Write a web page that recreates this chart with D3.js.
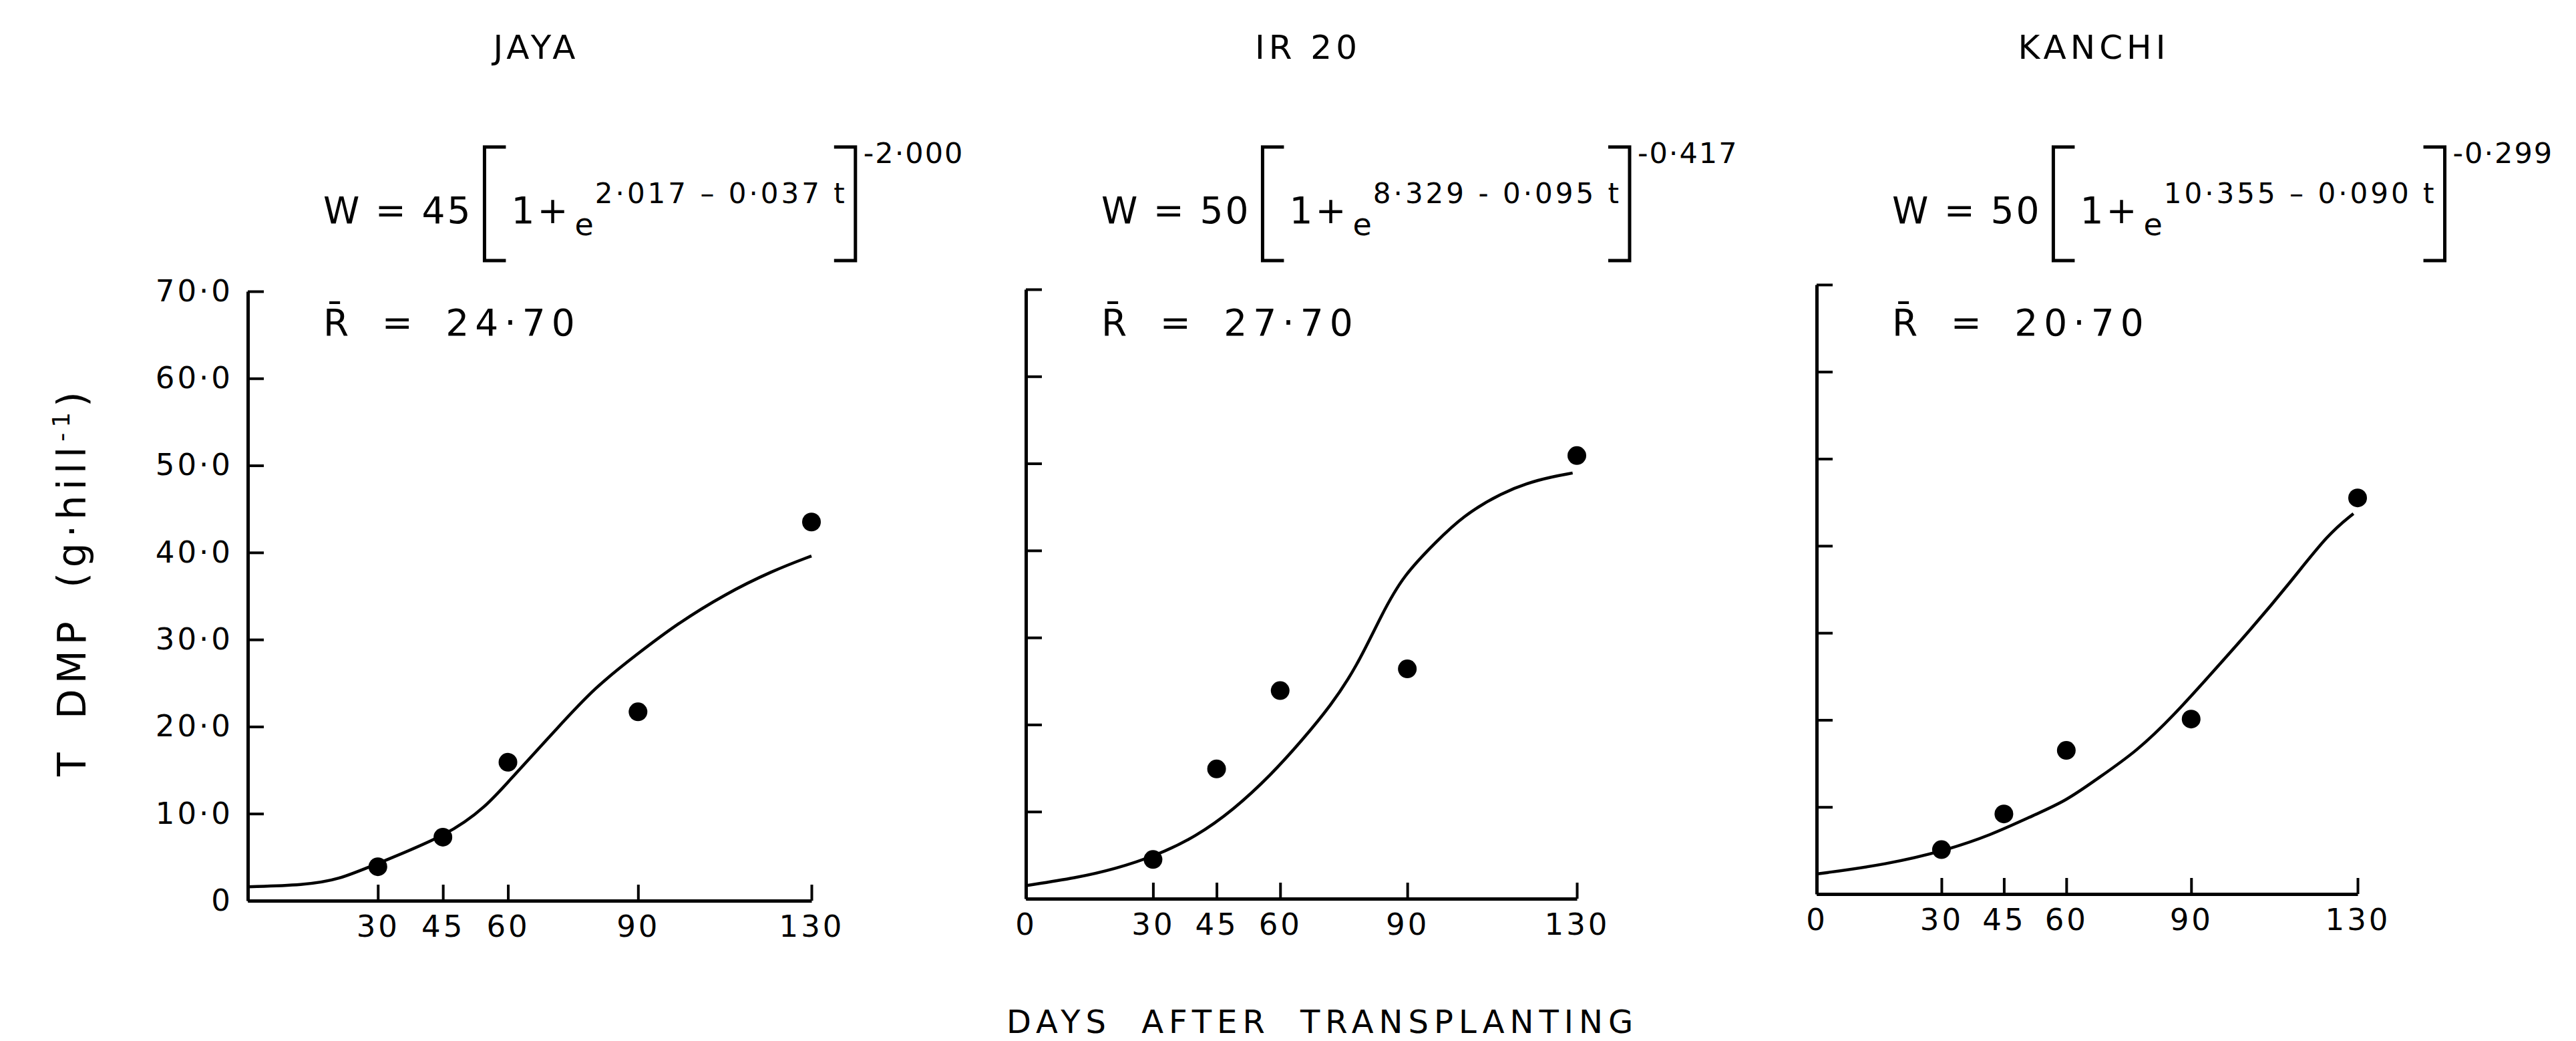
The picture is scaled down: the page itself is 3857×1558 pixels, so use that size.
<!DOCTYPE html>
<html>
<head>
<meta charset="utf-8">
<script src="https://cdn.jsdelivr.net/npm/d3@7"></script>
<style>
  body { margin: 0; background: #fff; }
  svg { display: block; background: #fff; }
  text { font-family: "DejaVu Sans", "Liberation Sans", sans-serif; fill: #000; }
</style>
</head>
<body>
<svg id="chart" width="3857" height="1558"></svg>
<script>
// ---- data ----
const varieties = ["JAYA", "IR 20", "KANCHI"];
const sampleDays = [30, 45, 60, 90, 130];

const jayaObserved = [3.9, 7.3, 15.9, 21.7, 43.5];
const ir20Observed = [4.5, 14.9, 23.9, 26.4, 50.9];
const kanchiObserved = [5.1, 9.2, 16.5, 20.1, 45.5];

// fitted curves, sampled along the drawn line
const jayaFitDays = [0, 13, 21, 30, 46, 55, 61, 71, 80, 90, 99, 110, 121, 130];
const jayaFitValues = [1.6, 1.8, 2.4, 4.3, 7.5, 10.8, 14.2, 19.6, 24.5, 28.4, 31.8, 35.2, 37.9, 39.6];
const ir20FitDays = [0, 12, 21, 31, 40, 49, 58, 65, 72, 78, 84, 89, 97, 103, 112, 121, 129];
const ir20FitValues = [1.5, 2.4, 3.4, 5.0, 7.1, 10.2, 14.3, 18.1, 22.2, 26.6, 32.7, 37.1, 41.1, 43.9, 46.6, 48.2, 48.9];
const kanchiFitDays = [0, 17, 31, 42, 51, 60, 67, 77, 86, 95, 104, 114, 123, 129];
const kanchiFitValues = [2.3, 3.4, 5.0, 6.8, 8.8, 10.7, 13.1, 16.4, 20.6, 25.4, 30.2, 35.9, 41.4, 43.7];

// equation text
const fitA = ["45", "50", "50"];
const fitExponent = ["2·017 – 0·037 t", "8·329 - 0·095 t", "10·355 – 0·090 t"];
const fitPower = ["-2·000", "-0·417", "-0·299"];
const meanR = ["24·70", "27·70", "20·70"];

const xTickValues = [0, 30, 45, 60, 90, 130];
const yTickValues = [0, 10, 20, 30, 40, 50, 60, 70];
const yTickLabels = ["0", "10·0", "20·0", "30·0", "40·0", "50·0", "60·0", "70·0"];

const observed = [jayaObserved, ir20Observed, kanchiObserved];
const fitDays = [jayaFitDays, ir20FitDays, kanchiFitDays];
const fitValues = [jayaFitValues, ir20FitValues, kanchiFitValues];

// ---- layout ----
const panelLeft = [371, 1536, 2720];
const panelWidth = [844, 825, 810];
const panelBase = [1348, 1345, 1338];
const panelHeight = 912;

const svg = d3.select("#chart");

varieties.forEach((name, i) => {
    const x = d3.scaleLinear().domain([0, 130]).range([panelLeft[i], panelLeft[i] + panelWidth[i]]);
    const y = d3.scaleLinear().domain([0, 70]).range([panelBase[i], panelBase[i] - panelHeight]);
    const g = svg.append("g");

    // axes, ticks point inward like the original
    const xAxis = d3.axisBottom(x)
        .tickValues(i === 0 ? xTickValues.slice(1) : xTickValues)
        .tickSizeInner(-24)
        .tickSizeOuter(0)
        .tickPadding(22)
        .tickFormat(d3.format("d"));
    const yAxis = d3.axisLeft(y)
        .tickValues(yTickValues)
        .tickSizeInner(-24)
        .tickSizeOuter(0)
        .tickPadding(22)
        .tickFormat((d, k) => i === 0 ? yTickLabels[k] : "");

    const gx = g.append("g")
        .attr("transform", `translate(0,${panelBase[i]})`)
        .call(xAxis)
        .attr("font-size", 45);
    const gy = g.append("g")
        .attr("transform", `translate(${panelLeft[i]},0)`)
        .call(yAxis)
        .attr("font-size", 45);

    [gx, gy].forEach(a => {
        a.select(".domain").attr("stroke", "#000").attr("stroke-width", 5);
        a.selectAll(".tick line").attr("stroke", "#000").attr("stroke-width", 4);
        a.selectAll(".tick text").attr("letter-spacing", 4);
    });

    // fitted curve
    const line = d3.line()
        .x(d => x(d[0]))
        .y(d => y(d[1]))
        .curve(d3.curveBasis);
    g.append("path")
        .datum(d3.zip(fitDays[i], fitValues[i]))
        .attr("d", line)
        .attr("fill", "none")
        .attr("stroke", "#000")
        .attr("stroke-width", 4.5);

    // observed points
    g.selectAll("circle")
        .data(d3.zip(sampleDays, observed[i]))
        .join("circle")
        .attr("cx", d => x(d[0]))
        .attr("cy", d => y(d[1]))
        .attr("r", 14)
        .attr("fill", "#000");

    // variety title
    svg.append("text")
        .attr("x", x(65) + 10)
        .attr("y", 88)
        .attr("text-anchor", "middle")
        .attr("font-size", 50)
        .attr("letter-spacing", 6)
        .text(name);

    // fitted equation W = A [1 + e^(...)]^p
    const eq = svg.append("g").attr("transform", `translate(${panelLeft[i] + 113},0)`);
    const lhs = eq.append("text")
        .attr("x", 0).attr("y", 334)
        .attr("font-size", 55)
        .attr("letter-spacing", 3)
        .text(`W = ${fitA[i]}`);
    let cx = lhs.node().getComputedTextLength() + 18;
    eq.append("path")
        .attr("d", `M${cx + 32},220 H${cx} V390 H${cx + 32}`)
        .attr("fill", "none").attr("stroke", "#000").attr("stroke-width", 5);
    cx += 40;
    const one = eq.append("text")
        .attr("x", cx).attr("y", 334)
        .attr("font-size", 55)
        .attr("letter-spacing", 4)
        .text("1+");
    cx += one.node().getComputedTextLength() + 6;
    const ee = eq.append("text")
        .attr("x", cx).attr("y", 352)
        .attr("font-size", 46)
        .text("e");
    cx += ee.node().getComputedTextLength() + 2;
    const ex = eq.append("text")
        .attr("x", cx).attr("y", 304)
        .attr("font-size", 42)
        .attr("letter-spacing", 4)
        .text(fitExponent[i]);
    cx += ex.node().getComputedTextLength() + 12;
    eq.append("path")
        .attr("d", `M${cx - 32},220 H${cx} V390 H${cx - 32}`)
        .attr("fill", "none").attr("stroke", "#000").attr("stroke-width", 5);
    eq.append("text")
        .attr("x", cx + 12).attr("y", 244)
        .attr("font-size", 43)
        .attr("letter-spacing", 2)
        .text(fitPower[i]);

    // mean R
    eq.append("text")
        .attr("x", 0).attr("y", 502)
        .attr("font-size", 55)
        .attr("letter-spacing", 9)
        .attr("word-spacing", 14)
        .text(`R\u0304 = ${meanR[i]}`);
});

// shared axis titles
const yTitle = svg.append("text")
    .attr("transform", "translate(128,870) rotate(-90)")
    .attr("text-anchor", "middle")
    .attr("font-size", 58)
    .attr("letter-spacing", 8)
    .attr("word-spacing", 16);
yTitle.append("tspan").text("T DMP (g·hill");
yTitle.append("tspan").attr("dy", -24).attr("font-size", 36).text("-1");
yTitle.append("tspan").attr("dy", 24).text(")");

svg.append("text")
    .attr("x", 1980)
    .attr("y", 1546)
    .attr("text-anchor", "middle")
    .attr("font-size", 48)
    .attr("letter-spacing", 8)
    .attr("word-spacing", 22)
    .text("DAYS AFTER TRANSPLANTING");
</script>
</body>
</html>
